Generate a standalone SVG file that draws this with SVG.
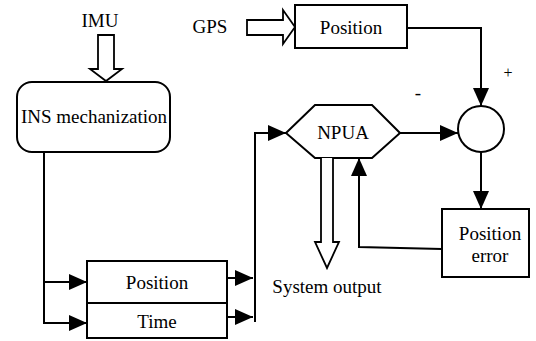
<svg xmlns="http://www.w3.org/2000/svg" width="536" height="341" viewBox="0 0 536 341">
  <style>
    .box { fill: #fff; stroke: #000; stroke-width: 2; }
    .ln { fill: none; stroke: #000; stroke-width: 2; }
    .hollow { fill: #fff; stroke: #000; stroke-width: 1.8; stroke-linejoin: miter; }
    text { font-family: "Liberation Serif", "Times New Roman", serif; font-size: 19px; fill: #000; text-anchor: middle; }
    .sm { font-size: 16px; }
  </style>
  <defs>
    <marker id="big" viewBox="0 0 18 16" refX="18" refY="8" markerWidth="18" markerHeight="16" markerUnits="userSpaceOnUse" orient="auto">
      <path d="M0,0 L18,8 L0,16 Z" fill="#000"/>
    </marker>
  </defs>

  <!-- IMU input -->
  <g id="imu">
    <text x="100" y="27">IMU</text>
    <path class="hollow" d="M98,35 L114,35 L114,69 L122,69 L106,81 L90,69 L98,69 Z"/>
  </g>

  <!-- GPS input -->
  <g id="gps">
    <text x="210" y="33">GPS</text>
    <path class="hollow" d="M247,20 L283,20 L283,10 L295,27 L283,44 L283,35 L247,35 Z"/>
  </g>

  <g id="gps-position">
    <rect class="box" x="295" y="5" width="112" height="43"/>
    <text x="351" y="34">Position</text>
  </g>

  <g id="ins">
    <rect class="box" x="17" y="82" width="153" height="70" rx="15" ry="15"/>
    <text x="94" y="123">INS mechanization</text>
  </g>

  <g id="ins-position">
    <rect class="box" x="87" y="261" width="140" height="42"/>
    <text x="157" y="289">Position</text>
  </g>

  <g id="ins-time">
    <rect class="box" x="87" y="303" width="140" height="35"/>
    <text x="157" y="328">Time</text>
  </g>

  <g id="npua">
    <polygon class="box" points="286,133 315,105 372,105 400,133 372,158 315,158"/>
    <text x="343" y="139">NPUA</text>
  </g>

  <g id="sum">
    <circle class="box" cx="481" cy="129" r="23"/>
    <text class="sm" x="508" y="78">+</text>
    <text x="418" y="99">-</text>
  </g>

  <g id="position-error">
    <rect class="box" x="442" y="209" width="87" height="68"/>
    <text x="490" y="240">Position</text>
    <text x="490" y="262">error</text>
  </g>

  <g id="system-output">
    <path class="hollow" d="M321,158 L321,242 L315,242 L327,268 L339,242 L333,242 L333,158"/>
    <text x="327" y="293">System output</text>
  </g>

  <!-- connectors -->
  <g id="connectors">
    <!-- INS outputs to position / time -->
    <path class="ln" d="M44,152 L44,323 L87,323" marker-end="url(#big)"/>
    <path class="ln" d="M44,282 L87,282" marker-end="url(#big)"/>
    <!-- position / time to NPUA -->
    <path class="ln" d="M227,278 L253,278" marker-end="url(#big)"/>
    <path class="ln" d="M227,317 L253,317" marker-end="url(#big)"/>
    <path class="ln" d="M255,322 L255,133 L286,133" marker-end="url(#big)"/>
    <!-- NPUA to summing junction -->
    <path class="ln" d="M400,133 L458,133" marker-end="url(#big)"/>
    <!-- GPS position to summing junction -->
    <path class="ln" d="M407,28 L481,28 L481,106" marker-end="url(#big)"/>
    <!-- junction to position error -->
    <path class="ln" d="M481,152 L481,209" marker-end="url(#big)"/>
    <!-- position error feedback to NPUA -->
    <path class="ln" d="M442,249 L359,247 L359,158" marker-end="url(#big)"/>
  </g>
</svg>
